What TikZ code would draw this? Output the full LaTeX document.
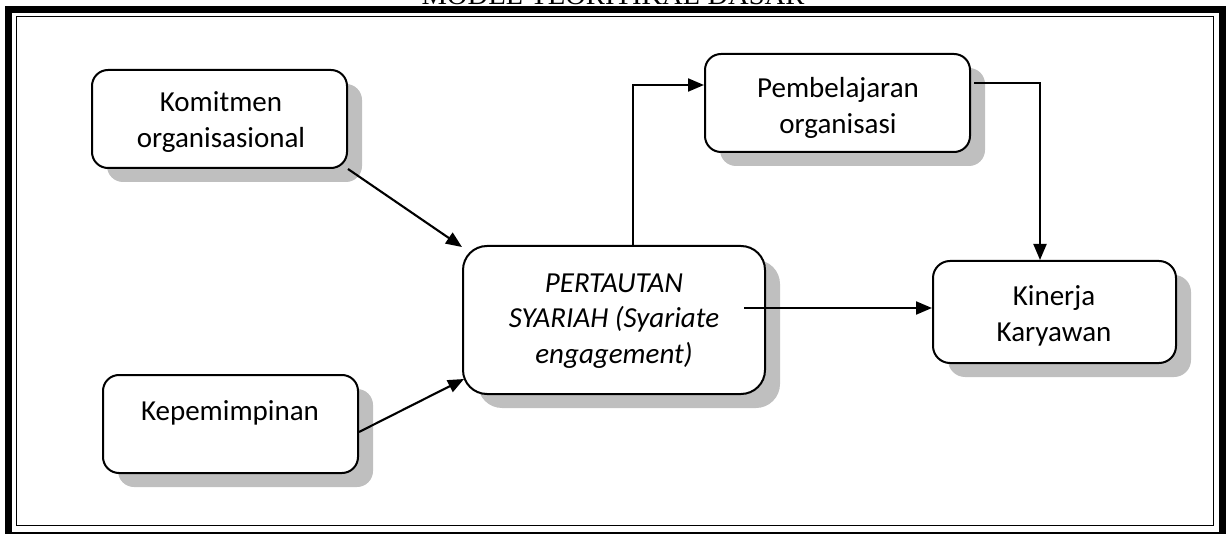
\documentclass[tikz,border=0pt]{standalone}
\usepackage{fontspec}
\setmainfont{Carlito}
\newfontfamily\titlefont{Liberation Serif}
\usetikzlibrary{arrows.meta,calc,shadows}

\tikzset{
  box/.style={draw=black, line width=2pt, fill=white, rounded corners=16pt,
    general shadow={shadow xshift=15pt, shadow yshift=-14pt, fill=black!25, draw=none}},
  bigbox/.style={box, rounded corners=24pt},
  label/.style={align=center, inner sep=0pt,
    font=\fontsize{29}{35.5}\selectfont},
  link/.style={line width=2.1pt, -{Triangle[length=16pt,width=13pt]}}
}

\begin{document}
\begin{tikzpicture}[x=1pt,y=-1pt]
\useasboundingbox (0,0) rectangle (1230,534);

% page frame: thick outer band and thin inner rule
\draw[line width=7pt] (8.5,9.5) rectangle (1222,535);
\draw[line width=1.6pt] (16.5,16.5) rectangle (1213.5,525.5);

% heading, partly cut by the top edge
\node[font=\titlefont\fontsize{28.6}{34}\selectfont, anchor=base, inner sep=0pt]
  (title) at (613,4.5) {MODEL TEORITIKAL DASAR};

% boxes
\node[box, minimum width=255pt, minimum height=98pt] (kom) at (219.5,119) {};
\node[box, minimum width=255pt, minimum height=98pt] (kep) at (230.5,424) {};
\node[bigbox, minimum width=302pt, minimum height=148pt] (per) at (614,320) {};
\node[box, minimum width=265pt, minimum height=98pt] (pem) at (837.5,103) {};
\node[box, rounded corners=17pt, minimum width=243pt, minimum height=102pt] (kin) at (1054.5,312) {};

% box texts
\node[label] (komt) at (221,122) {Komitmen\\organisasional};
\node[label, anchor=base] (kept) at (230,420) {Kepemimpinan};
\node[label, font=\fontsize{29}{35.5}\selectfont\itshape] (pert) at (614,321)
  {PERTAUTAN\\SYARIAH (Syariate\\engagement)};
\node[label] (pemt) at (838,108) {Pembelajaran\\organisasi};
\node[label] (kint) at (1054,316) {Kinerja\\Karyawan};

% connectors
\draw[link] (kom.south east) -- ($(per.north west)+(0,2)$);
\draw[link] ($(kep.east)+(0,8)$) -- ($(per.south west)+(2,-16)$);
\draw[link] ($(per.north)+(19,0)$) |- ($(pem.west)+(0,-18)$);
\draw[link] ($(pem.east)+(3,-20)$) -| ($(kin.north)+(-14.5,0)$);
\draw[link] ($(per.east)+(-22,-12)$) -- ($(kin.west)+(0,-4)$);
\end{tikzpicture}
\end{document}
